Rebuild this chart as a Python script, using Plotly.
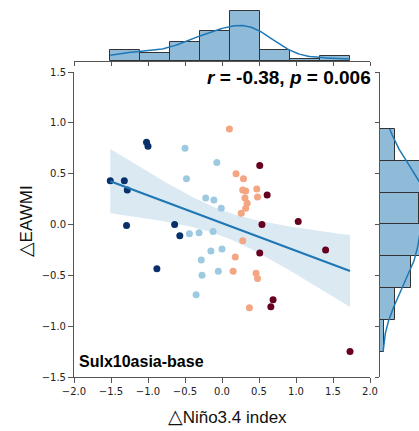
import numpy as np
import plotly.graph_objects as go

# ---- data ----
navy_x = [-1.02, -1.00, -1.51, -1.32, -1.28, -1.29, -0.64, -0.57, -0.88]
navy_y = [0.81, 0.77, 0.43, 0.43, 0.34, -0.01, 0.00, -0.11, -0.435]
light_x = [-0.50, -0.07, -0.48, -0.22, -0.11, -0.01, -0.44, -0.31, -0.12, -0.15, 0.00, -0.28, -0.27, -0.05, -0.35]
light_y = [0.75, 0.61, 0.45, 0.26, 0.24, 0.16, -0.09, -0.08, -0.07, -0.26, -0.24, -0.35, -0.50, -0.46, -0.69]
salmon_x = [0.10, 0.19, 0.29, 0.28, 0.32, 0.47, 0.48, 0.31, 0.34, 0.32, 0.26, 0.28, 0.18, 0.15, 0.46, 0.48, 0.37]
salmon_y = [0.94, 0.50, 0.45, 0.34, 0.33, 0.35, 0.27, 0.26, 0.21, 0.16, 0.11, -0.16, -0.32, -0.46, -0.48, -0.53, -0.82]
red_x = [0.51, 0.61, 0.54, 1.03, 0.51, 1.40, 0.69, 0.66, 1.73]
red_y = [0.58, 0.29, 0.00, 0.03, -0.28, -0.25, -0.74, -0.81, -1.25]

x_ticks = [-2.0, -1.5, -1.0, -0.5, 0.0, 0.5, 1.0, 1.5, 2.0]
y_ticks = [-1.5, -1.0, -0.5, 0.0, 0.5, 1.0, 1.5]
stat_text = "<b><i>r</i> = -0.38, <i>p</i> = 0.006</b>"
exp_label = "<b>Sulx10asia-base</b>"
tri = '<span style="font-family:DejaVu Sans;font-size:19px">△</span>'
x_title = tri + "Niño3.4 index"
y_title = tri + "EAWMI"

W, H = 419, 431
def px_x(p):
    return p / W
def px_y(p):
    return 1 - p / H

X = np.array(navy_x + light_x + salmon_x + red_x)
Y = np.array(navy_y + light_y + salmon_y + red_y)
n = len(X)

# regression + 95% CI
b1, b0 = np.polyfit(X, Y, 1)
xs = np.linspace(X.min(), X.max(), 100)
ys = b0 + b1 * xs
resid = Y - (b0 + b1 * X)
s = np.sqrt(np.sum(resid ** 2) / (n - 2))
sxx = np.sum((X - X.mean()) ** 2)
half = 2.01 * s * np.sqrt(1 / n + (xs - X.mean()) ** 2 / sxx)

def kde(v, grid, scale):
    bw = np.std(v, ddof=1) * len(v) ** (-1 / 5)
    d = np.exp(-0.5 * ((grid[:, None] - v[None, :]) / bw) ** 2).sum(axis=1)
    d /= (len(v) * bw * np.sqrt(2 * np.pi))
    return d * len(v) * scale

cx, ex = np.histogram(X, bins=8, range=(X.min(), X.max()))
cy, ey = np.histogram(Y, bins=7, range=(Y.min(), Y.max()))
wx = ex[1] - ex[0]
wy = ey[1] - ey[0]
gx = np.linspace(X.min(), X.max(), 200)
gy = np.linspace(Y.min(), Y.max(), 200)

fig = go.Figure()

# CI band
fig.add_trace(go.Scatter(x=np.concatenate([xs, xs[::-1]]), y=np.concatenate([ys + half, (ys - half)[::-1]]),
                         fill="toself", fillcolor="rgba(31,119,180,0.16)", line=dict(width=0),
                         mode="lines", hoverinfo="skip", showlegend=False))
groups = [(navy_x, navy_y, "#08306b"), (light_x, light_y, "#9ecae1"),
          (salmon_x, salmon_y, "#f4a582"), (red_x, red_y, "#67001f")]
for gxv, gyv, col in groups:
    fig.add_trace(go.Scatter(x=gxv, y=gyv, mode="markers",
                             marker=dict(color=col, size=7, line=dict(width=0)), showlegend=False))
fig.add_trace(go.Scatter(x=xs, y=ys, mode="lines", line=dict(color="#1f77b4", width=2.2), showlegend=False))

# top marginal
fig.add_trace(go.Bar(x=(ex[:-1] + ex[1:]) / 2, y=cx, width=wx, xaxis="x2", yaxis="y2",
                     marker=dict(color="rgba(31,119,180,0.5)", line=dict(color="#333333", width=1)),
                     showlegend=False))
fig.add_trace(go.Scatter(x=gx, y=kde(X, gx, wx), mode="lines", xaxis="x2", yaxis="y2",
                         line=dict(color="#1f77b4", width=1.5), showlegend=False))
# right marginal
fig.add_trace(go.Bar(y=(ey[:-1] + ey[1:]) / 2, x=cy, width=wy, orientation="h", xaxis="x3", yaxis="y3",
                     marker=dict(color="rgba(31,119,180,0.5)", line=dict(color="#333333", width=1)),
                     showlegend=False))
fig.add_trace(go.Scatter(y=gy, x=kde(Y, gy, wy), mode="lines", xaxis="x3", yaxis="y3",
                         line=dict(color="#1f77b4", width=1.5), showlegend=False))

axcol = "#555555"
tickfont = dict(family="DejaVu Sans", size=10, color="#222222")
main_dom_x = [px_x(74), px_x(370)]
main_dom_y = [px_y(377), px_y(72)]

fig.update_layout(
    width=W, height=H, margin=dict(l=0, r=0, t=0, b=0, autoexpand=False),
    paper_bgcolor="white", plot_bgcolor="white", bargap=0,
    xaxis=dict(domain=main_dom_x, range=[-2, 2], tickvals=x_ticks, ticktext=[f"{v:.1f}".replace("-", "−") for v in x_ticks],
               showline=True, linecolor=axcol, linewidth=1, ticks="outside", ticklen=5, tickcolor=axcol,
               showgrid=False, zeroline=False, tickfont=tickfont, anchor="y", automargin=False),
    yaxis=dict(domain=main_dom_y, range=[-1.5, 1.5], tickvals=y_ticks, ticktext=[f"{v:.1f}".replace("-", "−") for v in y_ticks],
               showline=True, linecolor=axcol, linewidth=1, ticks="outside", ticklen=5, tickcolor=axcol,
               showgrid=False, zeroline=False, tickfont=tickfont, anchor="x", automargin=False),
    xaxis2=dict(domain=main_dom_x, range=[-2, 2], tickvals=x_ticks, showticklabels=False,
                showline=True, linecolor=axcol, linewidth=1, ticks="outside", ticklen=4, tickcolor=axcol,
                showgrid=False, zeroline=False, anchor="y2", automargin=False),
    yaxis2=dict(domain=[px_y(61.3), 1.0], range=[0, 22], visible=False, anchor="x2", automargin=False),
    xaxis3=dict(domain=[px_x(380), 1.0], range=[0, 10.1], visible=False, anchor="y3", automargin=False),
    yaxis3=dict(domain=main_dom_y, range=[-1.5, 1.5], tickvals=y_ticks, showticklabels=False,
                showline=True, linecolor=axcol, linewidth=1, ticks="outside", ticklen=4, tickcolor=axcol,
                showgrid=False, zeroline=False, anchor="x3", automargin=False),
    annotations=[
        dict(text=stat_text, xref="paper", yref="paper", x=px_x(373), y=px_y(78), xanchor="right", yanchor="middle",
             showarrow=False, font=dict(family="Liberation Sans", size=19, color="black")),
        dict(text=exp_label, xref="paper", yref="paper", x=px_x(77), y=px_y(361), xanchor="left", yanchor="middle",
             showarrow=False, font=dict(family="Liberation Sans", size=16, color="black")),
        dict(text=x_title, xref="paper", yref="paper", x=px_x(227), y=px_y(416), xanchor="center", yanchor="middle",
             showarrow=False, font=dict(family="Liberation Sans", size=17, color="#111111")),
        dict(text=y_title, xref="paper", yref="paper", x=px_x(25), y=px_y(221), xanchor="center", yanchor="middle",
             textangle=-90, showarrow=False, font=dict(family="Liberation Sans", size=17, color="#111111")),
    ],
)

fig.write_html("out.html", config={"displayModeBar": False},
               post_script="document.body.style.margin='0';document.body.style.overflow='hidden';")
